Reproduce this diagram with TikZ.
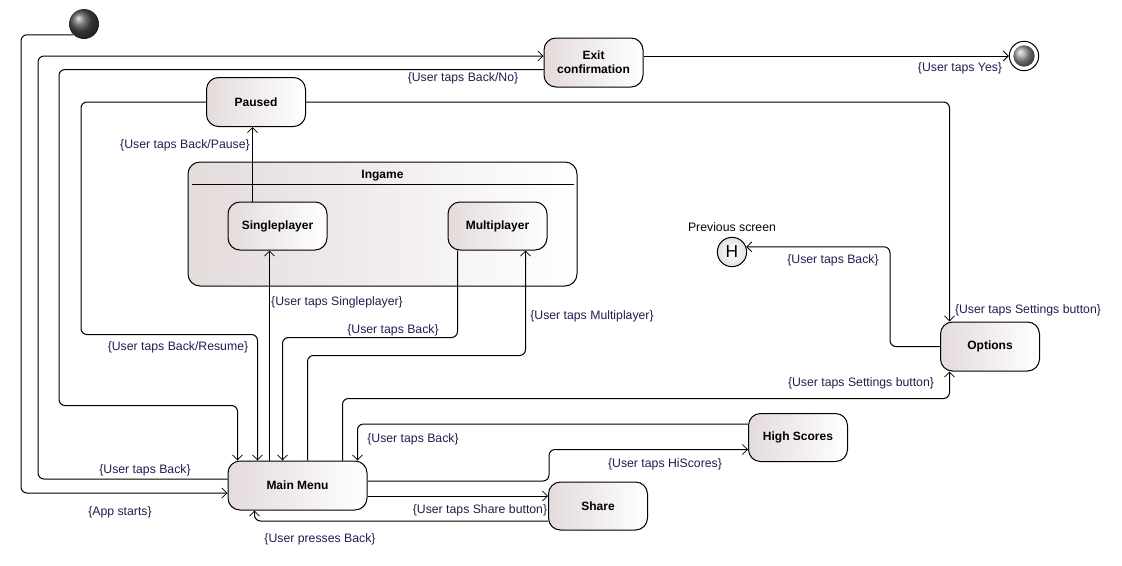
\documentclass[tikz,border=0pt]{standalone}
\usepackage{fontspec}
\setmainfont{Liberation Sans}
\usetikzlibrary{arrows.meta,calc,shapes.misc}
\definecolor{stL}{RGB}{228,219,219}
\definecolor{lbl}{RGB}{30,30,80}
\tikzset{
  stbox/.style={draw, line width=0.75pt, rounded corners=9pt, left color=stL, right color=white,
    minimum width=74.25pt, minimum height=36.75pt, inner sep=0pt, align=center,
    font=\fontsize{9}{10.5}\selectfont\bfseries},
  lab/.style={inner sep=0pt, text=lbl, yshift=-1.5pt, font=\fontsize{9.2}{10}\selectfont},
  conn/.style={line width=0.75pt, rounded corners=4.5pt},
  arr/.style={conn, -{Straight Barb[length=3.8pt,width=7.5pt,line width=0.6pt]}},
}
\begin{document}
\begin{tikzpicture}[x=0.75pt,y=-0.75pt]
\useasboundingbox (0,0) rectangle (1122,565);
% composite state
\node[draw, line width=0.75pt, rounded corners=9pt, left color=stL, right color=white,
  minimum width=291.75pt, minimum height=93pt, inner sep=0pt] (ingame) at (382.5,224) {};
\node[font=\fontsize{9}{10}\selectfont\bfseries, inner sep=0pt] (ingt) at (382.5,175.5) {Ingame};
\draw[line width=0.75pt] ($(ingame.north west)+(4,23)$) -- ($(ingame.north east)+(-4,23)$);
% states
\node[stbox] (exit) at (593.5,62.5) {Exit\\confirmation};
\node[stbox] (paused) at (256,102) {Paused};
\node[stbox, minimum height=36pt] (sp) at (277.5,226) {Singleplayer};
\node[stbox, minimum height=36pt] (mp) at (497.5,226) {Multiplayer};
\node[stbox, minimum width=104.25pt] (mm) at (297.5,485.5) {Main Menu};
\node[stbox, minimum height=36pt] (hs) at (798,437.5) {High Scores};
\node[stbox, minimum height=36pt] (share) at (598,506) {Share};
\node[stbox] (opt) at (990,346.5) {Options};
% pseudo states
\node[circle, minimum size=22.5pt, inner sep=0pt, ball color=black!70, shading angle=0] (init) at (84,24) {};
\node[circle, draw, line width=0.75pt, fill=white, minimum size=22pt, inner sep=0pt] (final) at (1024,56) {};
\node[circle, minimum size=16pt, inner sep=0pt, ball color=black!40] (finalin) at (1024,56) {};
\node[circle, draw, line width=0.75pt, inner color=white, outer color=black!12, minimum size=22pt, inner sep=0pt,
  font=\fontsize{13}{13}\selectfont] (hist) at (732,252) {H};
\node[inner sep=0pt, text=black!85!lbl, yshift=-1pt, font=\fontsize{9.2}{10}\selectfont] (histl) at (732,226) {Previous screen};
% helper coordinates
\coordinate (k1) at (21,300);
\coordinate (k2) at (38,300);
\coordinate (k3) at (59,300);
\coordinate (k4) at (81,300);
\coordinate (k11) at (890,300);
\coordinate (k12) at (549,465);
% connectors
\draw[arr] (init.south west) -| (k1) |- ($(mm.west)+(0,7.5)$);
\draw[arr] ($(mm.west)+(0,-6.5)$) -| (k2) |- ($(exit.west)+(0,-6.5)$);
\draw[arr] ($(exit.west)+(0,7)$) -| (k3) |- ($(mm.north west)+(10,-55)$) -- ($(mm.north west)+(10,0)$);
\draw[arr] (paused.west) -| (k4) |- ($(mm.north west)+(30,-126)$) -- ($(mm.north west)+(30,0)$);
\coordinate (a5) at ($(sp.north west)+(25,0)$);
\draw[arr] (a5) -- (a5 |- paused.south);
\coordinate (a6) at ($(mm.north west)+(42,0)$);
\draw[arr] (a6) -- (a6 |- sp.south);
\draw[arr] ($(mp.south west)+(10,0)$) |- ($(mm.north west)+(55,-123)$) -- ($(mm.north west)+(55,0)$);
\draw[arr] ($(mm.north west)+(80,0)$) |- ($(mp.south east)+(-22,105)$) -- ($(mp.south east)+(-22,0)$);
\draw[arr] ($(mm.north west)+(115,0)$) |- ($(opt.south west)+(9.5,27)$) -- ($(opt.south west)+(9.5,0)$);
\draw[arr] (paused.east) -| ($(opt.north west)+(9.5,0)$);
\draw[arr] (opt.west) -| (k11) |- (hist.20);
\draw[arr] ($(mm.east)+(0,-4.5)$) -| (k12) |- ($(hs.west)+(0,12)$);
\draw[arr] ($(hs.west)+(0,-13.5)$) -| ($(mm.north west)+(130,0)$);
\draw[arr] ($(mm.east)+(0,10.5)$) -- ($(share.west)+(0,-10)$);
\draw[arr] ($(share.west)+(0,15)$) -| ($(mm.south west)+(27,0)$);
\draw[arr] ($(exit.east)+(0,-6.5)$) -- (final.west);
% labels
\node[lab] (l1) at (120,510) {\{App starts\}};
\node[lab] (l2) at (145,468) {\{User taps Back\}};
\node[lab] (l3) at (463,76) {\{User taps Back/No\}};
\node[lab] (l4) at (178,345) {\{User taps Back/Resume\}};
\node[lab] (l5) at (185,143) {\{User taps Back/Pause\}};
\node[lab] (l6) at (337,300) {\{User taps Singleplayer\}};
\node[lab] (l7) at (393,328) {\{User taps Back\}};
\node[lab] (l8) at (592,314) {\{User taps Multiplayer\}};
\node[lab] (l9) at (861,381) {\{User taps Settings button\}};
\node[lab] (l10) at (1028,308) {\{User taps Settings button\}};
\node[lab] (l11) at (833,258) {\{User taps Back\}};
\node[lab] (l12) at (665,462) {\{User taps HiScores\}};
\node[lab] (l13) at (413,437) {\{User taps Back\}};
\node[lab] (l14) at (480,508) {\{User taps Share button\}};
\node[lab] (l15) at (320,537) {\{User presses Back\}};
\node[lab] (l16) at (960,66) {\{User taps Yes\}};
\end{tikzpicture}
\end{document}
